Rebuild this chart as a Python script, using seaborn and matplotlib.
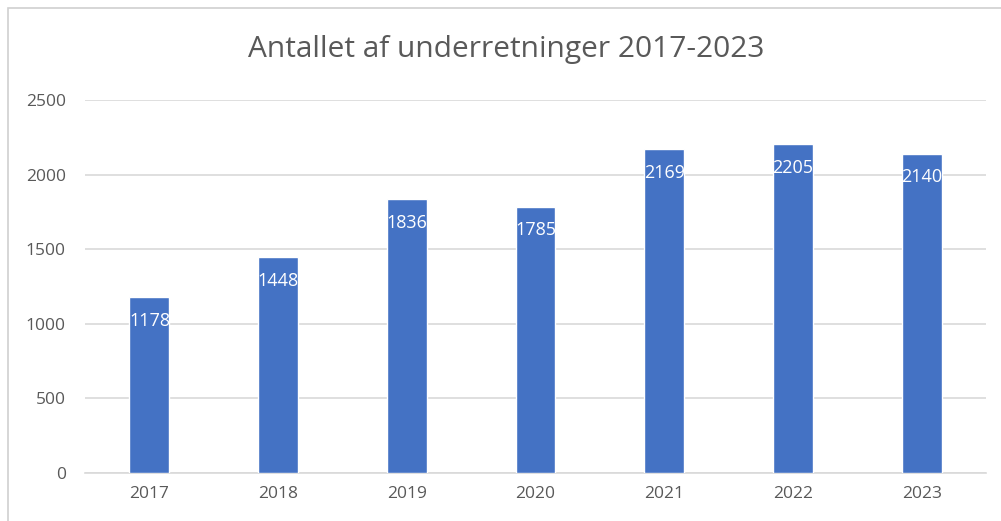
import numpy as np
import pandas as pd
import matplotlib
matplotlib.use('Agg')
import matplotlib.pyplot as plt
from matplotlib.patches import Rectangle
import seaborn as sns

# data
years  = ['2017', '2018', '2019', '2020', '2021', '2022', '2023']
counts = [1178, 1448, 1836, 1785, 2169, 2205, 2140]
yticks = [0, 500, 1000, 1500, 2000, 2500]

df = pd.DataFrame({'year': years, 'count': counts})

sns.set_theme(style='white')
plt.rcParams['font.family'] = ['Open Sans', 'DejaVu Sans']

_grey = '#595959'
_grid = '#D9D9D9'
_blue = '#4472C4'

fig = plt.figure(figsize=(10.01, 5.21), dpi=100)
ax = fig.add_axes([0.085, 0.092, 0.9, 0.716])

sns.barplot(data=df, x='year', y='count', color=_blue, width=0.31,
            saturation=1, ax=ax, zorder=3)

# labels inside bar tops
for i, v in enumerate(counts):
    ax.annotate(str(v), xy=(i, v), xytext=(0, -17), textcoords='offset points',
                ha='center', va='center', color='white', fontsize=13, zorder=4)

ax.set_ylim(0, 2500)
ax.set_yticks(yticks)
ax.yaxis.grid(True, color=_grid, linewidth=1.2, zorder=0)
ax.set_xlabel('')
ax.set_ylabel('')
for s in ['top', 'right', 'left']:
    ax.spines[s].set_visible(False)
ax.spines['bottom'].set_color(_grid)
ax.spines['bottom'].set_linewidth(1.2)
ax.tick_params(axis='both', length=0, labelsize=12.5, colors=_grey)
ax.tick_params(axis='y', pad=14)
ax.tick_params(axis='x', pad=9)

fig.text(0.506, 0.905, 'Antallet af underretninger 2017-2023', ha='center', va='center',
         fontsize=21.5, color=_grey)

# chart frame
fig.patches.append(Rectangle((8/1001, -0.1), 1.2, 1 - 8/521 + 0.1, transform=fig.transFigure,
                             fill=False, edgecolor='#D0D0D0', linewidth=1.2))

fig.savefig('out.png', dpi=100)
